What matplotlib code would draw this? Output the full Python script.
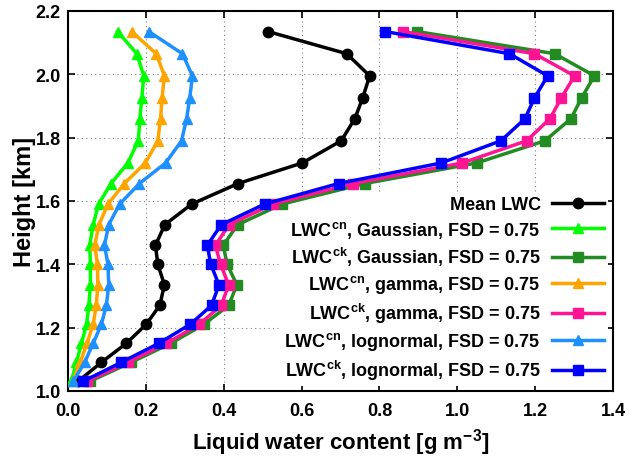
import numpy as np
import matplotlib
matplotlib.use("Agg")
import matplotlib.pyplot as plt

# heights [km] of the profile levels
height = [1.03, 1.09, 1.15, 1.21, 1.27, 1.335, 1.40, 1.46, 1.525,
          1.59, 1.655, 1.72, 1.79, 1.86, 1.925, 1.995, 2.065, 2.135]

mean_lwc = [0.026, 0.086, 0.150, 0.201, 0.236, 0.248, 0.231, 0.225, 0.249,
            0.318, 0.437, 0.602, 0.702, 0.737, 0.757, 0.775, 0.716, 0.514]

cn_gauss = [0.009, 0.022, 0.035, 0.048, 0.054, 0.058, 0.058, 0.056, 0.065,
            0.079, 0.111, 0.154, 0.181, 0.185, 0.190, 0.195, 0.177, 0.128]
ck_gauss = [0.056, 0.162, 0.264, 0.349, 0.413, 0.434, 0.409, 0.399, 0.436,
            0.550, 0.763, 1.050, 1.225, 1.292, 1.319, 1.352, 1.250, 0.897]
cn_gamma = [0.012, 0.032, 0.049, 0.065, 0.073, 0.077, 0.076, 0.069, 0.080,
            0.103, 0.145, 0.199, 0.231, 0.238, 0.242, 0.248, 0.227, 0.164]
ck_gamma = [0.048, 0.154, 0.253, 0.337, 0.394, 0.413, 0.392, 0.379, 0.414,
            0.526, 0.733, 1.013, 1.178, 1.238, 1.267, 1.301, 1.198, 0.861]
cn_logn = [0.014, 0.043, 0.065, 0.086, 0.099, 0.105, 0.103, 0.094, 0.105,
           0.133, 0.184, 0.251, 0.292, 0.305, 0.313, 0.320, 0.294, 0.208]
ck_logn = [0.039, 0.137, 0.233, 0.314, 0.369, 0.388, 0.367, 0.358, 0.394,
           0.505, 0.695, 0.959, 1.112, 1.174, 1.198, 1.232, 1.134, 0.815]

xticks = [0.0, 0.2, 0.4, 0.6, 0.8, 1.0, 1.2, 1.4]
yticks = [1.0, 1.2, 1.4, 1.6, 1.8, 2.0, 2.2]

plt.rcParams['font.family'] = ['Liberation Sans', 'DejaVu Sans']
plt.rcParams['font.weight'] = 'bold'
plt.rcParams['mathtext.fontset'] = 'custom'
plt.rcParams['mathtext.rm'] = 'Liberation Sans:bold'
plt.rcParams['mathtext.it'] = 'Liberation Sans:bold'
plt.rcParams['mathtext.bf'] = 'Liberation Sans:bold'

narrow = ['Liberation Sans Narrow', 'Liberation Sans']

fig = plt.figure(figsize=(6.34, 4.6), dpi=100)
ax = fig.add_axes([0.107, 0.148, 0.860, 0.826])

series = [
    (mean_lwc, 'black', 'o', 'Mean LWC'),
    (cn_gauss, '#00ff00', '^', r'LWC$^{cn}$, Gaussian, FSD = 0.75'),
    (ck_gauss, '#228b22', 's', r'LWC$^{ck}$, Gaussian, FSD = 0.75'),
    (cn_gamma, '#ffa500', '^', r'LWC$^{cn}$, gamma, FSD = 0.75'),
    (ck_gamma, '#ff1493', 's', r'LWC$^{ck}$, gamma, FSD = 0.75'),
    (cn_logn, '#1e90ff', '^', r'LWC$^{cn}$, lognormal, FSD = 0.75'),
    (ck_logn, '#0000ff', 's', r'LWC$^{ck}$, lognormal, FSD = 0.75'),
]
for vals, col, mk, lab in series:
    ax.plot(vals, height, color=col, marker=mk, lw=2.5, ms=7.5, label=lab, zorder=3)

ax.set_xlim(0, 1.4)
ax.set_ylim(1.0, 2.2)
ax.set_xticks(xticks)
ax.set_yticks(yticks)
ax.set_xticklabels(['%.1f' % v for v in xticks], family=narrow, fontsize=13, weight='bold')
ax.set_yticklabels(['%.1f' % v for v in yticks], family=narrow, fontsize=13, weight='bold')
ax.tick_params(direction='in', top=True, right=True, length=5, width=1.2)
ax.tick_params(axis='x', pad=8)
ax.tick_params(axis='y', pad=5)
for s in ax.spines.values():
    s.set_linewidth(1.5)
ax.grid(True, color='gray', linestyle=(0, (1, 3)), linewidth=0.8, zorder=1)

ax.set_xlabel('Liquid water content [g m$^{-3}$]', family=narrow, fontsize=16,
              weight='bold', labelpad=5)
ax.set_ylabel('Height [km]', fontsize=17, weight='bold', labelpad=0)

leg = ax.legend(loc='lower right', markerfirst=False, frameon=True, fontsize=13,
                handlelength=2.9, handletextpad=0.6, labelspacing=0.3,
                borderaxespad=0.3, borderpad=0.2)
leg.get_frame().set_edgecolor('none')
leg.get_frame().set_alpha(1)
leg.set_zorder(2)
for t in leg.get_texts():
    t.set_ha('right')
leg._legend_box.align = 'right'

fig.savefig('out.png', dpi=100)
